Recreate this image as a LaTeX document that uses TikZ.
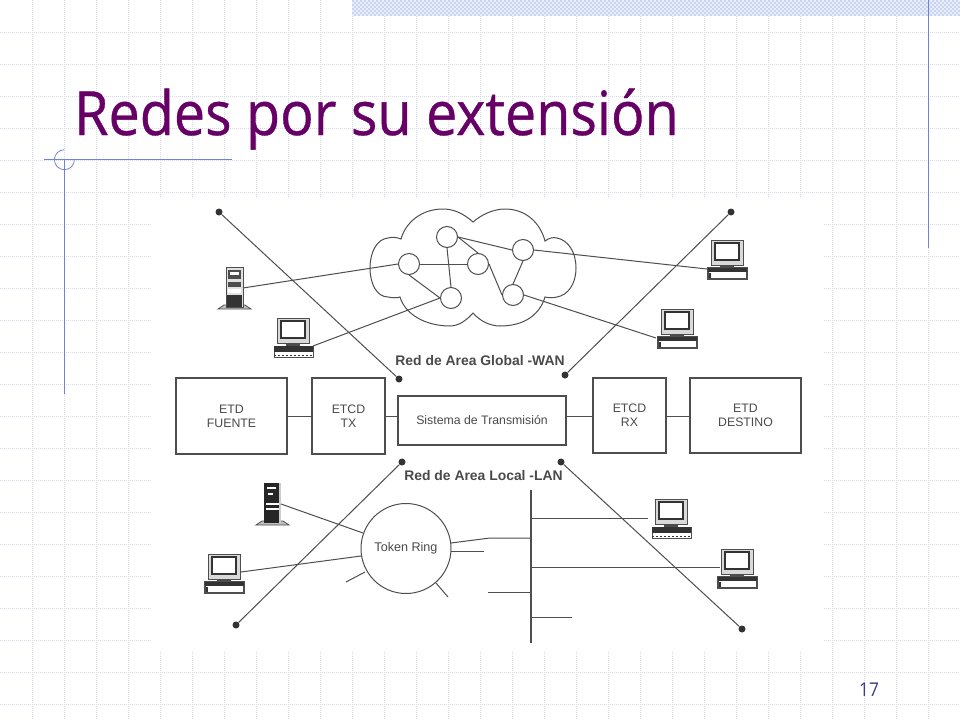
\documentclass[tikz,border=0pt]{standalone}
\usepackage{fontspec}
\setmainfont{Liberation Sans}
\newfontfamily\slidefont[FakeStretch=0.912,FakeBold=0.6]{Open Sans}
\newfontfamily\numfont[FakeStretch=0.912]{Open Sans}
\definecolor{inkg}{HTML}{4E4E4E}
\definecolor{labelg}{HTML}{4A4A4A}
\definecolor{gridc}{HTML}{D9D9EC}
\definecolor{bandc}{HTML}{C6D4F2}
\definecolor{bandb}{HTML}{EAF0FB}
\definecolor{rulec}{HTML}{7382D2}
\definecolor{titlec}{HTML}{660066}
\definecolor{numc}{HTML}{3D3D85}
\tikzset{
  x=1pt,y=-1pt,
  wire/.style={draw=inkg,line width=1pt},
  boxn/.style={draw=inkg,line width=1.1pt,fill=white,inner sep=0pt,align=center,text=labelg,font=\fontsize{12.3}{14.3}\selectfont},
  hub/.style={circle,draw=inkg,line width=1pt,fill=white,minimum size=21pt,inner sep=0pt},
  dotn/.style={circle,fill=black!80,minimum size=7pt,inner sep=0pt},
  lbl/.style={inner sep=0pt,text=labelg,font=\fontsize{13.9}{15}\selectfont\bfseries},
  gridl/.style={draw=gridc,line width=1pt,dash pattern=on 1pt off 1pt},
  rulel/.style={draw=rulec,line width=1pt},
  compbase/.pic={
    \draw[draw=inkg,line width=1pt,fill=black!15] (0,0) rectangle (32,25);
    \draw[draw=black!80,line width=1.3pt,fill=white] (4,3) rectangle (28,20);
    \fill[black!70] (9,25) rectangle (23,28);
  },
  compdots/.pic={
    \pic {compbase};
    \draw[draw=inkg,line width=1pt,fill=white] (-3,28) rectangle (36,39);
    \fill[black!80] (-3,28) rectangle (36,34);
    \draw[draw=black!80,line width=1.2pt,dash pattern=on 2pt off 2pt] (-3,37.5) -- (36,37.5);
  },
  compplain/.pic={
    \pic {compbase};
    \draw[draw=inkg,line width=1.1pt,fill=white] (-3,28) rectangle (36,39);
    \fill[black!80] (-3,28) rectangle (36,31.5);
    \fill[black!80] (-2,33) rectangle (0,38);
  },
  towerlight/.pic={
    \fill[black!25] (-8,42) -- (-2,38) -- (19,38) -- (25,42) -- cycle;
    \draw[draw=inkg,line width=0.8pt] (-8,42) -- (-2,38) -- (19,38) -- (25,42) -- cycle;
    \draw[draw=inkg,line width=1pt,fill=black!12] (0,0) rectangle (17,40);
    \fill[black!80] (1,28) rectangle (16,40);
    \fill[black!70] (2,3) rectangle (15,12);
    \fill[white] (4,5) rectangle (13,8);
    \fill[black!70] (2,15) rectangle (15,20);
    \fill[white] (2,22) rectangle (15,26);
  },
  towerdark/.pic={
    \fill[black!25] (-8,42) -- (-2,38) -- (19,38) -- (25,42) -- cycle;
    \draw[draw=inkg,line width=0.8pt] (-8,42) -- (-2,38) -- (19,38) -- (25,42) -- cycle;
    \fill[black!85] (0,0) rectangle (17,40);
    \fill[black!20] (15,0) rectangle (17,40);
    \fill[white] (3,4) rectangle (12,5.5);
    \fill[white] (4,10) rectangle (9,12);
    \fill[white] (2,20) rectangle (15,22);
    \fill[white] (2,25) rectangle (15,27);
  },
}
\begin{document}
\begin{tikzpicture}
\useasboundingbox (0,0) rectangle (960,720);
\fill[white] (0,0) rectangle (960,720);
% slide grid
\foreach \k in {1,...,29} \draw[gridl] ({32*\k+0.5},0) -- ({32*\k+0.5},720);
\foreach \k in {1,...,22} \draw[gridl] (0,{32*\k+0.5}) -- (960,{32*\k+0.5});
% white ground of the picture
\fill[white] (151,198) rectangle (824,651);
% top band
\fill[bandb] (352,0) rectangle (960,16);
\foreach \r in {0,2,...,14} {
  \pgfmathsetmacro{\ph}{mod(\r,4)}
  \draw[draw=bandc,line width=2pt,dash pattern=on 2pt off 2pt,dash phase=\ph pt] (352,{\r+1}) -- (960,{\r+1});
}
% slide rules
\draw[rulel] (44,159.7) -- (232,159.7);
\draw[rulel] (64.4,159.7) -- (64.4,394);
\draw[draw=rulec,line width=0.8pt] (64.4,149.7) arc[start angle=-90,end angle=-360,radius=10];
\draw[rulel,line width=1.2pt] (928.4,0) -- (928.4,248);
% title and number
\node[anchor=base west,inner sep=0pt,text=titlec,font=\slidefont\fontsize{61}{66}\selectfont] (title) at (74,135) {Redes por su extensión};
\node[anchor=base,inner sep=0pt,text=numc,font=\numfont\fontsize{19}{22}\selectfont] (pageno) at (869,696) {17};
% cloud
\draw[draw=inkg,line width=1pt,fill=white]
  (473,222) .. controls (463,213) and (453,209) .. (443,209)
  .. controls (420,209) and (405,224) .. (401,239)
  .. controls (396,237) and (392,237) .. (388,238)
  .. controls (377,239) and (370,252) .. (370,268)
  .. controls (370,284) and (377,297) .. (388,297)
  .. controls (393,298) and (397,298) .. (400,297)
  .. controls (405,314) and (425,326) .. (450,326)
  .. controls (458,326) and (466,321) .. (473,313)
  .. controls (480,321) and (490,326) .. (500,326)
  .. controls (525,326) and (540,314) .. (545,297)
  .. controls (549,298) and (553,298) .. (557,297)
  .. controls (568,295) and (576,284) .. (576,268)
  .. controls (576,252) and (568,240) .. (557,238)
  .. controls (553,237) and (549,238) .. (545,241)
  .. controls (540,222) and (525,209) .. (505,209)
  .. controls (493,209) and (481,215) .. (473,222) -- cycle;
% hubs
\node[hub] (ha) at (409,264) {};
\node[hub] (hb) at (447,237) {};
\node[hub] (hc) at (478,264) {};
\node[hub] (hd) at (451,298) {};
\node[hub] (he) at (523,250) {};
\node[hub] (hf) at (513,295) {};
\draw[wire] (ha.east) -- (hc.west);
\draw[wire] (hb.south) -- (hd.north);
\draw[wire] (ha.south) -- (hd.west);
\draw[wire] (hb.east) -- (hc.north);
\draw[wire] (hb.east) -- (he.west);
\draw[wire] (hc.east) -- (hf.west);
\draw[wire] (he.south) -- (hf.north);
% WAN equipment
\pic at (226,267) {towerlight};
\pic at (277,318) {compdots};
\pic at (711,240) {compplain};
\pic at (661,309) {compplain};
\coordinate (ps1) at (243,288);
\coordinate (pc1) at (313,346);
\coordinate (pc2) at (707,269);
\coordinate (pc3) at (656,338);
\draw[wire] (ps1) -- (ha.west);
\draw[wire] (pc1) -- (hd.west);
\draw[wire] (he.east) -- (pc2);
\draw[wire] (hf.east) -- (pc3);
% boxes
\node[boxn,minimum width=111pt,minimum height=76pt] (fuente) at (231.5,416) {ETD\\FUENTE};
\node[boxn,minimum width=73pt,minimum height=76pt] (tx) at (348.5,416) {ETCD\\TX};
\node[boxn,minimum width=168pt,minimum height=49pt] (sis) at (482,420.5) {Sistema de Transmisión};
\node[boxn,minimum width=73pt,minimum height=75pt] (rx) at (629.5,415.5) {ETCD\\RX};
\node[boxn,minimum width=111pt,minimum height=75pt] (destino) at (745.5,415.5) {ETD\\DESTINO};
\coordinate (jl) at (398,416.5);
\coordinate (jr) at (566,416.5);
\draw[wire] (fuente.east |- 0,416.5) -- (tx.west |- 0,416.5);
\draw[wire] (tx.east |- 0,416.5) -- (jl);
\draw[wire] (jr) -- (rx.west |- 0,416.5);
\draw[wire] (rx.east |- 0,416.5) -- (destino.west |- 0,416.5);
% crossing lines
\node[dotn] (d1) at (219,212) {};
\node[dotn] (d2) at (399,379) {};
\node[dotn] (d3) at (731,212) {};
\node[dotn] (d4) at (565,375) {};
\node[dotn] (d5) at (402,462) {};
\node[dotn] (d6) at (236,625) {};
\node[dotn] (d7) at (561,462) {};
\node[dotn] (d8) at (742,629) {};
\draw[wire] (d1) -- (d2);
\draw[wire] (d3) -- (d4);
\draw[wire] (d5) -- (d6);
\draw[wire] (d7) -- (d8);
% labels
\node[lbl] (wan) at (480,361) {Red de Area Global -WAN};
\node[lbl] (lan) at (483.5,476) {Red de Area Local -LAN};
% token ring
\node[circle,draw=inkg,line width=1pt,fill=white,minimum size=90pt,inner sep=0pt,text=labelg,font=\fontsize{12.6}{14}\selectfont] (ring) at (406,548.5) {Token Ring};
\pic at (264,483) {towerdark};
\pic at (208,554) {compplain};
\pic at (655,499) {compdots};
\pic at (721,549) {compplain};
\coordinate (ps2) at (281,504);
\coordinate (rs2) at (363,533);
\coordinate (pc4) at (241,572);
\coordinate (rc4) at (361,556);
\coordinate (st1a) at (346,582);
\coordinate (st1b) at (365,572);
\coordinate (st2a) at (448,597);
\coordinate (st2b) at (436,583);
\draw[wire] (ps2) -- (rs2);
\draw[wire] (pc4) -- (rc4);
\draw[wire] (st1a) -- (st1b);
\draw[wire] (st2a) -- (st2b);
% bus
\coordinate (bt) at (531,490);
\coordinate (bb) at (531,643);
\draw[wire,line width=1.2pt] (bt) -- (bb);
\coordinate (r1) at (451,543);
\coordinate (r1m) at (490,538);
\coordinate (b1) at (531,538);
\coordinate (r2) at (451,551);
\coordinate (r2e) at (484,551);
\draw[wire] (r1) -- (r1m) -- (b1);
\draw[wire] (r2) -- (r2e);
\coordinate (b2) at (531,518);
\coordinate (b2e) at (648,518);
\coordinate (b3) at (531,567);
\coordinate (b3e) at (720,567);
\coordinate (b4) at (531,592);
\coordinate (b4e) at (488,592);
\coordinate (b5) at (531,617);
\coordinate (b5e) at (572,617);
\draw[wire] (b2) -- (b2e);
\draw[wire] (b3) -- (b3e);
\draw[wire] (b4) -- (b4e);
\draw[wire] (b5) -- (b5e);
\end{tikzpicture}
\end{document}
